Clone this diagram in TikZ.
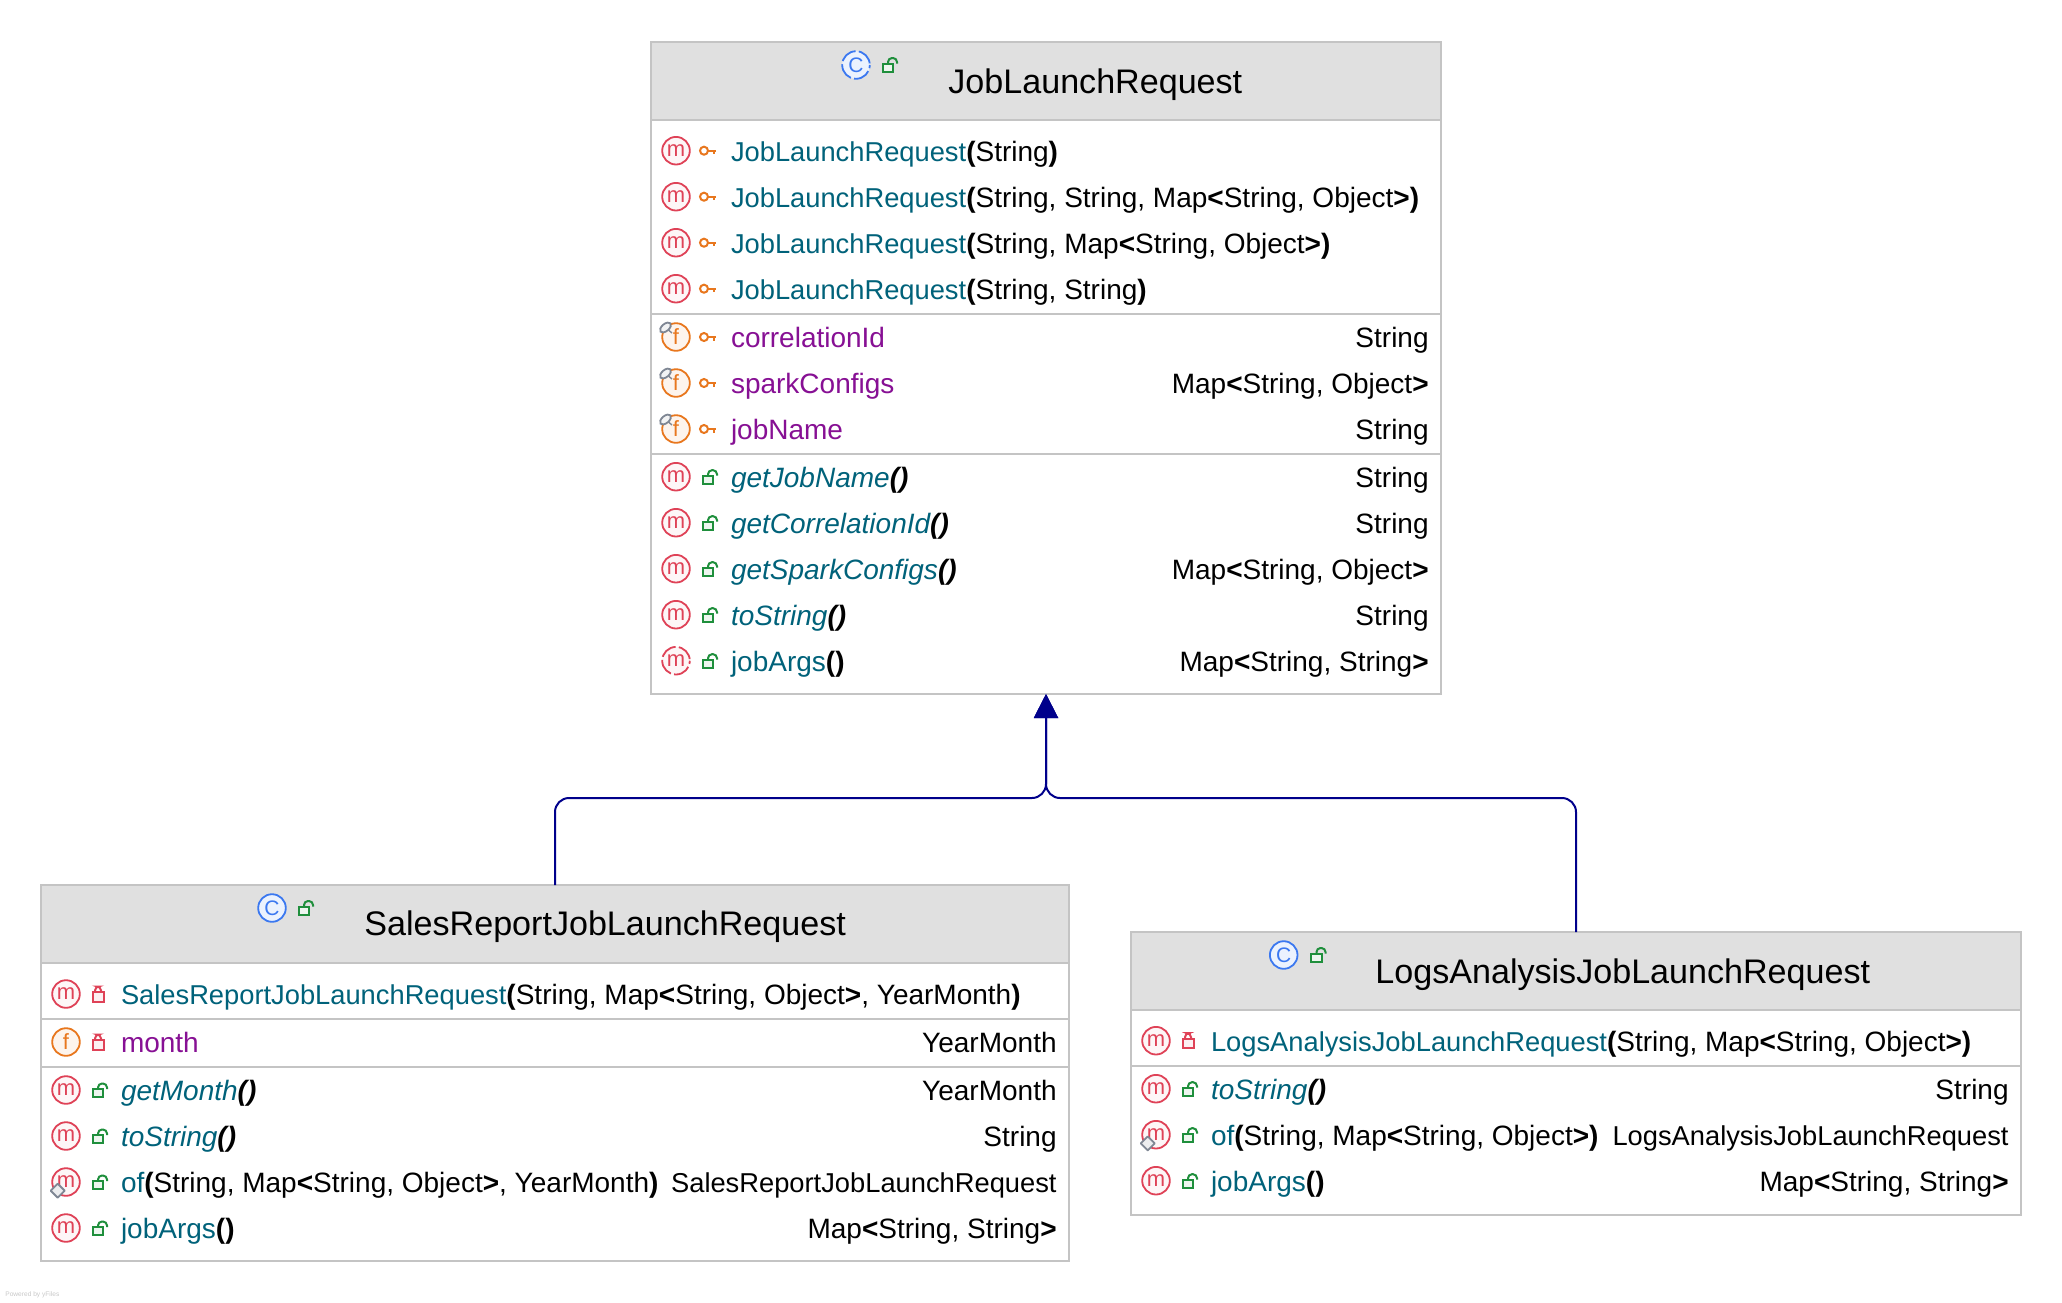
\documentclass[tikz,border=0pt]{standalone}
\usepackage{fontspec}
\setmainfont{Liberation Sans}
\usetikzlibrary{arrows.meta,positioning}

\definecolor{edgegray}{HTML}{C4C4C4}
\definecolor{headgray}{HTML}{E0E0E0}
\definecolor{methodteal}{HTML}{00627A}
\definecolor{fieldpurple}{HTML}{871094}
\definecolor{iconred}{HTML}{DF4257}
\definecolor{iconorange}{HTML}{E8771E}
\definecolor{iconblue}{HTML}{3B78F0}
\definecolor{icongreen}{HTML}{1F8F3C}
\definecolor{markgray}{HTML}{7F8794}
\definecolor{linknavy}{HTML}{00008B}

% one member line: box, name, icon style, visibility pic, y, text
\newcommand{\member}[6]{%
  \node[#3,xshift=12.5pt] (#2) at (#1.west |- 0,#5) {\iconletter{#3}};
  \pic[xshift=28.5pt] at (#1.west |- 0,#5) {#4};
  \node[rowtext,xshift=39.8pt] (#2t) at (#1.west |- 0,#5+10.5) {#6};
}
% type column on the right of a member line
\newcommand{\rtype}[4]{%
  \node[typetext,xshift=-6pt] (#2r) at (#1.east |- 0,#3+10.5) {#4};
}
\newcommand{\iconletter}[1]{\ifnum\pdfstrcmp{#1}{ficon}=0 f\else m\fi}
\newcommand{\cname}[1]{{\fontsize{13.65}{16}\selectfont #1}}
\newcommand{\mname}[1]{\textcolor{methodteal}{#1}}
\newcommand{\fname}[1]{\textcolor{fieldpurple}{#1}}
\newcommand{\bp}[1]{\textbf{#1}}

\begin{document}
\begin{tikzpicture}[
  x=0.5pt,y=-0.5pt,
  headbox/.style={draw=edgegray,fill=headgray,line width=1pt,inner sep=0,outer sep=0,
                  anchor=north west,minimum height=39pt},
  bodybox/.style={draw=edgegray,fill=white,line width=1pt,inner sep=0,outer sep=0},
  sepline/.style={draw=edgegray,line width=1pt},
  rowtext/.style={inner sep=0,anchor=base west,font=\fontsize{14}{16}\selectfont},
  typetext/.style={inner sep=0,anchor=base east,font=\fontsize{14}{16}\selectfont},
  titletext/.style={inner sep=0,anchor=base west,font=\fontsize{17.05}{20}\selectfont},
  roundicon/.style={circle,line width=0.9pt,minimum size=13.8pt,inner sep=0,outer sep=0},
  micon/.style={roundicon,draw=iconred,fill=iconred!5,text=iconred,
                font=\fontsize{11}{11}\selectfont},
  miconab/.style={micon,dash pattern=on 8.6pt off 1.6pt,dash phase=9.4pt},
  ficon/.style={roundicon,draw=iconorange,fill=iconorange!8,text=iconorange,
                font=\fontsize{11}{11}\selectfont},
  cicon/.style={roundicon,draw=iconblue,fill=iconblue!10,text=iconblue,
                font=\fontsize{10.5}{11}\selectfont},
  ciconab/.style={cicon,dash pattern=on 8.6pt off 1.6pt,dash phase=9.4pt},
  link/.style={draw=linknavy,line width=1pt,rounded corners=7pt,
               -{Triangle[length=12pt,width=12pt,fill=linknavy]}},
  keyicon/.pic={
    \draw[iconorange,line width=1pt] (-4,0) circle (2pt);
    \draw[iconorange,line width=1pt] (0,0) -- (8,0) (5.5,0) -- (5.5,3.5);
  },
  openlock/.pic={
    \draw[icongreen,fill=icongreen!8,line width=1pt] (-5.3,-1) rectangle (5.3,7.3);
    \draw[icongreen,line width=1pt,rounded corners=2pt] (0,-1) -- (0,-6.5) -- (9,-6.5) -- (9,-1);
  },
  shutlock/.pic={
    \draw[iconred,fill=iconred!8,line width=1pt] (-5.5,-2) rectangle (5.5,7.6);
    \draw[iconred,line width=1pt,rounded corners=2pt] (-3,-2) -- (-3,-7.5) -- (3,-7.5) -- (3,-2);
  },
  pinmark/.pic={
    \draw[markgray,line width=0.7pt] (-10,-9) -- (-4,-4);
    \draw[markgray,fill=white!90!markgray,line width=0.9pt,rotate around={40:(-10.5,-9.5)}]
      (-10.5,-9.5) ellipse [x radius=6.5,y radius=3.6];
  },
  statmark/.pic={
    \draw[markgray,fill=white!85!markgray,line width=0.9pt,line join=round]
      (-15.3,8.7) -- (-8.3,1.7) -- (-1.3,8.7) -- (-8.3,15.7) -- cycle;
  }]
\useasboundingbox (0,0) rectangle (2062,1302);

% parent class
\node[headbox,minimum width=395pt] (jobhead) at (651,42) {};
\node[bodybox,minimum width=395pt,minimum height=287pt,below=0pt of jobhead] (jobbody) {};
\node[ciconab] (jobc) at (856,65) {C};
\pic at (888,64.5) {openlock};
\node[titletext] (jobtitle) at (948,93) {JobLaunchRequest};
\member{jobbody}{jc1}{micon}{keyicon}{150.7}{\mname{\cname{JobLaunchRequest}}\bp{(}String\bp{)}}
\member{jobbody}{jc2}{micon}{keyicon}{196.7}{\mname{\cname{JobLaunchRequest}}\bp{(}String, String, Map\bp{<}String, Object\bp{>)}}
\member{jobbody}{jc3}{micon}{keyicon}{242.7}{\mname{\cname{JobLaunchRequest}}\bp{(}String, Map\bp{<}String, Object\bp{>)}}
\member{jobbody}{jc4}{micon}{keyicon}{288.7}{\mname{\cname{JobLaunchRequest}}\bp{(}String, String\bp{)}}
\draw[sepline] (jobbody.west |- 0,314) -- (jobbody.east |- 0,314);
\member{jobbody}{jf1}{ficon}{keyicon}{337}{\fname{correlationId}}
\rtype{jobbody}{jf1}{337}{String}
\member{jobbody}{jf2}{ficon}{keyicon}{383}{\fname{sparkConfigs}}
\rtype{jobbody}{jf2}{383}{Map\bp{<}String, Object\bp{>}}
\member{jobbody}{jf3}{ficon}{keyicon}{429}{\fname{jobName}}
\rtype{jobbody}{jf3}{429}{String}
\pic at (jf1) {pinmark};
\pic at (jf2) {pinmark};
\pic at (jf3) {pinmark};
\draw[sepline] (jobbody.west |- 0,454) -- (jobbody.east |- 0,454);
\member{jobbody}{jm1}{micon}{openlock}{476.7}{\mname{\itshape getJobName}\textit{\bp{()}}}
\rtype{jobbody}{jm1}{476.7}{String}
\member{jobbody}{jm2}{micon}{openlock}{522.7}{\mname{\itshape getCorrelationId}\textit{\bp{()}}}
\rtype{jobbody}{jm2}{522.7}{String}
\member{jobbody}{jm3}{micon}{openlock}{568.7}{\mname{\itshape getSparkConfigs}\textit{\bp{()}}}
\rtype{jobbody}{jm3}{568.7}{Map\bp{<}String, Object\bp{>}}
\member{jobbody}{jm4}{micon}{openlock}{614.7}{\mname{\itshape toString}\textit{\bp{()}}}
\rtype{jobbody}{jm4}{614.7}{String}
\member{jobbody}{jm5}{miconab}{openlock}{660.7}{\mname{jobArgs}\bp{()}}
\rtype{jobbody}{jm5}{660.7}{Map\bp{<}String, String\bp{>}}

% sales report class
\node[headbox,minimum width=514pt] (saleshead) at (41,885) {};
\node[bodybox,minimum width=514pt,minimum height=149pt,below=0pt of saleshead] (salesbody) {};
\node[cicon] (salesc) at (272,908) {C};
\pic at (304,907.5) {openlock};
\node[titletext] (salestitle) at (364,935) {SalesReportJobLaunchRequest};
\member{salesbody}{sc1}{micon}{shutlock}{994}{\mname{\cname{SalesReportJobLaunchRequest}}\bp{(}String, Map\bp{<}String, Object\bp{>}, YearMonth\bp{)}}
\draw[sepline] (salesbody.west |- 0,1018.7) -- (salesbody.east |- 0,1018.7);
\member{salesbody}{sf1}{ficon}{shutlock}{1042}{\fname{month}}
\rtype{salesbody}{sf1}{1042}{YearMonth}
\draw[sepline] (salesbody.west |- 0,1066.7) -- (salesbody.east |- 0,1066.7);
\member{salesbody}{sm1}{micon}{openlock}{1090}{\mname{\itshape getMonth}\textit{\bp{()}}}
\rtype{salesbody}{sm1}{1090}{YearMonth}
\member{salesbody}{sm2}{micon}{openlock}{1136}{\mname{\itshape toString}\textit{\bp{()}}}
\rtype{salesbody}{sm2}{1136}{String}
\member{salesbody}{sm3}{micon}{openlock}{1182}{\mname{of}\bp{(}String, Map\bp{<}String, Object\bp{>}, YearMonth\bp{)}}
\rtype{salesbody}{sm3}{1182}{\cname{SalesReportJobLaunchRequest}}
\pic at (sm3) {statmark};
\member{salesbody}{sm4}{micon}{openlock}{1228}{\mname{jobArgs}\bp{()}}
\rtype{salesbody}{sm4}{1228}{Map\bp{<}String, String\bp{>}}

% logs analysis class
\node[headbox,minimum width=445pt] (logshead) at (1131,932) {};
\node[bodybox,minimum width=445pt,minimum height=102.5pt,below=0pt of logshead] (logsbody) {};
\node[cicon] (logsc) at (1283.7,955) {C};
\pic at (1316.5,954.5) {openlock};
\node[titletext] (logstitle) at (1375,983) {LogsAnalysisJobLaunchRequest};
\member{logsbody}{lc1}{micon}{shutlock}{1040.7}{\mname{\cname{LogsAnalysisJobLaunchRequest}}\bp{(}String, Map\bp{<}String, Object\bp{>)}}
\draw[sepline] (logsbody.west |- 0,1065.7) -- (logsbody.east |- 0,1065.7);
\member{logsbody}{lm1}{micon}{openlock}{1088.7}{\mname{\itshape toString}\textit{\bp{()}}}
\rtype{logsbody}{lm1}{1088.7}{String}
\member{logsbody}{lm2}{micon}{openlock}{1134.7}{\mname{of}\bp{(}String, Map\bp{<}String, Object\bp{>)}}
\rtype{logsbody}{lm2}{1134.7}{\cname{LogsAnalysisJobLaunchRequest}}
\pic at (lm2) {statmark};
\member{logsbody}{lm3}{micon}{openlock}{1180.7}{\mname{jobArgs}\bp{()}}
\rtype{logsbody}{lm3}{1180.7}{Map\bp{<}String, String\bp{>}}

% inheritance links
\coordinate (bend) at (jobbody.south |- 0,798);
\draw[link] (saleshead.north) |- (bend) -- (jobbody.south);
\draw[link] (logshead.north) |- (bend) -- (jobbody.south);

\node[inner sep=0,anchor=base west,text=black!22,font=\fontsize{3.3}{4}\selectfont] (yfiles) at (5,1296) {Powered by yFiles};
\end{tikzpicture}
\end{document}
